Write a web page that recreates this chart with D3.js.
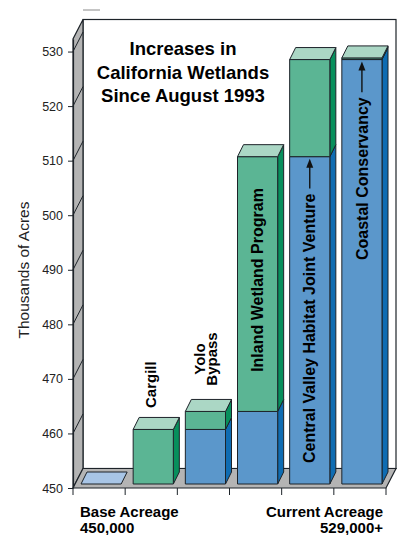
<!DOCTYPE html>
<html>
<head>
<meta charset="utf-8">
<script src="https://cdn.jsdelivr.net/npm/d3@7"></script>
<style>
  body { margin: 0; background: #fff; overflow: hidden; }
  svg { display: block; font-family: "Liberation Sans", Arial, Helvetica, sans-serif; }
</style>
</head>
<body>
<svg id="chart" width="399" height="535"></svg>
<script>
// categories along the floor and the stacked values (thousands of acres)
const categories = ['Base Acreage', 'Cargill', 'Yolo Bypass', 'Inland Wetland Program',
  'Central Valley Habitat Joint Venture', 'Coastal Conservancy'];
const priorTotal = [450, 450, 460, 463.3, 510, 527.8];   // blue part
const addedAcres = [0, 10, 3.3, 46.7, 17.8, 0.3];         // green part
const yTicks = [450, 460, 470, 480, 490, 500, 510, 520, 530];
const titleLines = ['Increases in', 'California Wetlands', 'Since August 1993'];
const footLeft = ['Base Acreage', '450,000'];
const footRight = ['Current Acreage', '529,000+'];

const svg = d3.select('#chart');

// plot box + 3d depth
const plotL = 73, plotR = 386, plotB = 488, plotT = 39;
const depth = { x: 10, y: -19.5 };
const barShift = { x: 2, y: -4 }, barDepth = { x: 6, y: -12 };

const x = d3.scaleBand().domain(categories).range([plotL, plotR]);
const y = d3.scaleLinear().domain([450, 532.3]).range([plotB, plotT]);
const yb = (v) => y(v) + barShift.y;

const colors = {
  blue: '#5b97cb', blueSide: '#0f6cb2', blueCap: '#a8c5e6',
  green: '#5bb594', greenSide: '#078f5c', greenCap: '#abd7c5',
  wall: '#b4b4b4', line: '#1d2329'
};

// little dash at the very top
svg.append('line').attr('x1', plotL + depth.x).attr('x2', 100).attr('y1', 10).attr('y2', 10)
  .attr('stroke', '#8a8a8a').attr('stroke-width', 1);

// back wall
svg.append('rect')
  .attr('x', plotL + depth.x).attr('y', plotT + depth.y)
  .attr('width', plotR - plotL).attr('height', plotB - plotT)
  .attr('fill', '#fff').attr('stroke', colors.line).attr('stroke-width', 1.2);

// left wall
svg.append('polygon')
  .attr('points', [[plotL, plotB], [plotL, plotT], [plotL + depth.x, plotT + depth.y], [plotL + depth.x, plotB + depth.y]].join(' '))
  .attr('fill', colors.wall).attr('stroke', colors.line).attr('stroke-width', 1.2);

// floor
svg.append('polygon')
  .attr('points', [[plotL, plotB], [plotL + depth.x, plotB + depth.y], [plotR + depth.x, plotB + depth.y], [plotR, plotB]].join(' '))
  .attr('fill', colors.wall).attr('stroke', colors.line).attr('stroke-width', 1.2);

// slashes on the left wall at each tick
svg.append('g').selectAll('line').data(yTicks.slice(1)).join('line')
  .attr('x1', plotL).attr('y1', (d) => y(d))
  .attr('x2', plotL + depth.x).attr('y2', (d) => y(d) + depth.y)
  .attr('stroke', colors.line).attr('stroke-width', 1);

// bars
const barW = x.bandwidth() * 0.77;
categories.forEach((c, i) => {
  const x0 = x(c) + barShift.x + 6;
  const segs = [
    { lo: 450, hi: priorTotal[i], face: colors.blue, side: colors.blueSide },
    { lo: priorTotal[i], hi: priorTotal[i] + addedAcres[i], face: colors.green, side: colors.greenSide }
  ].filter((s) => s.hi > s.lo);
  const g = svg.append('g').attr('stroke', colors.line).attr('stroke-width', 1).attr('stroke-linejoin', 'round');
  segs.forEach((s) => {
    g.append('polygon')
      .attr('points', [[x0 + barW, yb(s.lo)], [x0 + barW + barDepth.x, yb(s.lo) + barDepth.y],
        [x0 + barW + barDepth.x, yb(s.hi) + barDepth.y], [x0 + barW, yb(s.hi)]].join(' '))
      .attr('fill', s.side);
    g.append('rect')
      .attr('x', x0).attr('y', yb(s.hi)).attr('width', barW).attr('height', yb(s.lo) - yb(s.hi))
      .attr('fill', s.face);
  });
  const t = priorTotal[i] + addedAcres[i];
  g.append('polygon')
    .attr('points', [[x0, yb(t)], [x0 + barDepth.x, yb(t) + barDepth.y],
      [x0 + barW + barDepth.x, yb(t) + barDepth.y], [x0 + barW, yb(t)]].join(' '))
    .attr('fill', addedAcres[i] > 0 ? colors.greenCap : colors.blueCap);
});

// y axis
const yAxis = svg.append('g').attr('transform', `translate(${plotL},0)`)
  .call(d3.axisLeft(y).tickValues(yTicks).tickSize(5).tickSizeOuter(0).tickPadding(5));
yAxis.select('.domain').attr('stroke', colors.line).attr('stroke-width', 1.2);
yAxis.selectAll('.tick line').attr('stroke', colors.line);
yAxis.selectAll('.tick text').attr('font-size', 12.5).attr('fill', '#222')
  .attr('font-family', '"Liberation Sans", Arial, sans-serif');

// x ticks at band edges
const edges = categories.map((c) => x(c)).concat([plotR]);
svg.append('g').selectAll('line').data(edges).join('line')
  .attr('x1', (d) => d).attr('x2', (d) => d).attr('y1', plotB).attr('y2', plotB + 7)
  .attr('stroke', colors.line).attr('stroke-width', 1);

// y title
svg.append('text')
  .attr('transform', 'translate(29,270) rotate(-90)')
  .attr('text-anchor', 'middle').attr('font-size', 15.5).attr('fill', '#222')
  .text('Thousands of Acres');

// chart title
svg.append('text').attr('text-anchor', 'middle').attr('font-size', 18.5).attr('font-weight', 'bold')
  .selectAll('tspan').data(titleLines).join('tspan')
  .attr('x', 183).attr('y', (d, i) => 55 + i * 23.5).text((d) => d);

// labels above the small bars
const cx = (i) => x(categories[i]) + barShift.x + 6 + barW / 2;
svg.append('text')
  .attr('transform', `translate(${cx(1) + 3},408) rotate(-90)`)
  .attr('font-size', 15).attr('font-weight', 'bold').text('Cargill');
svg.append('text')
  .attr('transform', `translate(${cx(2)},359) rotate(-90)`)
  .attr('text-anchor', 'middle').attr('font-size', 15).attr('font-weight', 'bold')
  .selectAll('tspan').data(['Yolo', 'Bypass']).join('tspan')
  .attr('x', 0).attr('y', (d, i) => i * 11.5).text((d) => d);

// labels inside the tall bars
svg.append('text')
  .attr('transform', `translate(${cx(3)},280) rotate(-90)`)
  .attr('text-anchor', 'middle').attr('dy', '0.35em')
  .attr('font-size', 16).attr('font-weight', 'bold').text('Inland Wetland Program');

function arrowLabel(i, bottomY, label) {
  const tx = svg.append('text')
    .attr('transform', `translate(${cx(i)},${bottomY}) rotate(-90)`)
    .attr('dy', '0.35em').attr('font-size', 16).attr('font-weight', 'bold')
    .attr('xml:space', 'preserve').text(label);
  const len = tx.node().getComputedTextLength();
  const tail = bottomY - len - 5;
  const tip = yb(priorTotal[i]) + 2;
  svg.append('line').attr('x1', cx(i)).attr('x2', cx(i)).attr('y1', tail).attr('y2', tip + 7)
    .attr('stroke', '#111').attr('stroke-width', 1.4);
  svg.append('polygon')
    .attr('points', [[cx(i), tip], [cx(i) - 3.5, tip + 9], [cx(i) + 3.5, tip + 9]].join(' '))
    .attr('fill', '#111');
}
arrowLabel(4, 463, 'Central Valley Habitat Joint Venture');
arrowLabel(5, 260, 'Coastal Conservancy');

// footer labels
svg.append('text').attr('font-size', 15).attr('font-weight', 'bold')
  .selectAll('tspan').data(footLeft).join('tspan')
  .attr('x', 80).attr('y', (d, i) => 517 + i * 15.5).text((d) => d);
svg.append('text').attr('font-size', 15).attr('font-weight', 'bold').attr('text-anchor', 'end')
  .selectAll('tspan').data(footRight).join('tspan')
  .attr('x', 383).attr('y', (d, i) => 517 + i * 15.5).text((d) => d);
</script>
</body>
</html>
